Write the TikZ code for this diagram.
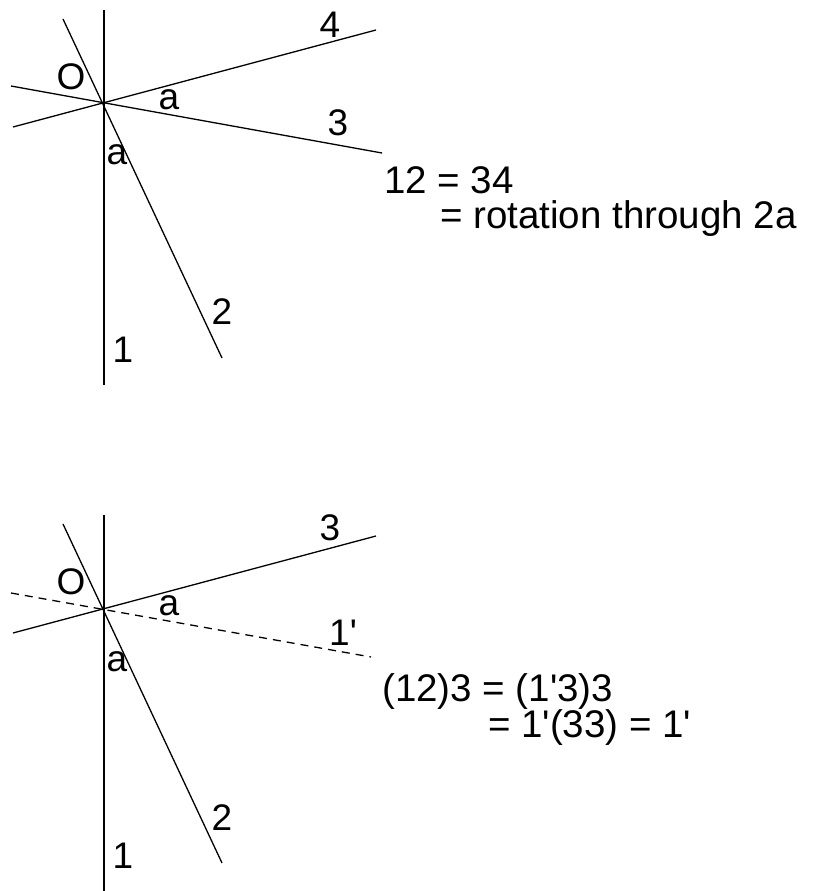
\documentclass[tikz,border=0pt]{standalone}
\usepackage{fontspec}
\setmainfont{Liberation Sans}
\newcommand{\sq}{\textquotesingle}
\begin{document}
\begin{tikzpicture}[x=1pt,y=-1pt,
  ln/.style={line width=1.3pt,black},
  vln/.style={line width=1.7pt,black},
  dln/.style={line width=1.3pt,black,dash pattern=on 8pt off 6pt},
  lbl/.style={inner sep=0pt,font=\fontsize{37}{37}\selectfont},
  eqn/.style={inner sep=0pt,anchor=base west,font=\fontsize{38.5}{38.5}\selectfont}]
\useasboundingbox (0,0) rectangle (814,891);
\fill[white] (0,0) rectangle (814,891);
% ---------- top figure ----------
\coordinate (tO) at (104,103);
\coordinate (t1a) at (104,10);   \coordinate (t1b) at (104,385);
\coordinate (t2a) at (63,19);    \coordinate (t2b) at (222,358);
\coordinate (t4a) at (13,127);   \coordinate (t4b) at (376,30);
\coordinate (t3a) at (11,86);    \coordinate (t3b) at (382,153);
\draw[vln] (t1a) -- (t1b);
\draw[ln] (t2a) -- (t2b);
\draw[ln] (t4a) -- (t4b);
\draw[ln] (t3a) -- (t3b);
\node[lbl] (tL4) at (330,25) {4};
\node[lbl] (tL3) at (338,123) {3};
\node[lbl] (tL2) at (222,312) {2};
\node[lbl] (tL1) at (123,350) {1};
\node[lbl] (tLO) at (71,77) {O};
\node[lbl] (tLa1) at (169,100) {a};
\node[lbl] (tLa2) at (117,155) {a};
\node[eqn] (tE1) at (384,193) {12 = 34};
\node[eqn] (tE2) at (440,228) {= rotation through 2a};
% ---------- bottom figure ----------
\coordinate (bO) at (104,609);
\coordinate (b1a) at (104,515);  \coordinate (b1b) at (104,891);
\coordinate (b2a) at (63,524);   \coordinate (b2b) at (222,863);
\coordinate (b3a) at (13,633);   \coordinate (b3b) at (376,536);
\coordinate (bpa) at (11,593);   \coordinate (bpb) at (371,657);
\draw[vln] (b1a) -- (b1b);
\draw[ln] (b2a) -- (b2b);
\draw[ln] (b3a) -- (b3b);
\draw[dln] (bpa) -- (bpb);
\node[lbl] (bL3) at (330,528) {3};
\node[lbl] (bL1p) at (343,633) {1\sq};
\node[lbl] (bL2) at (222,818) {2};
\node[lbl] (bL1) at (123,856) {1};
\node[lbl] (bLO) at (71,582) {O};
\node[lbl] (bLa1) at (169,606) {a};
\node[lbl] (bLa2) at (117,662) {a};
\node[eqn] (bE1) at (382,701) {(12)3 = (1\sq3)3};
\node[eqn] (bE2) at (488,737) {= 1\sq(33) = 1\sq};
\end{tikzpicture}
\end{document}
